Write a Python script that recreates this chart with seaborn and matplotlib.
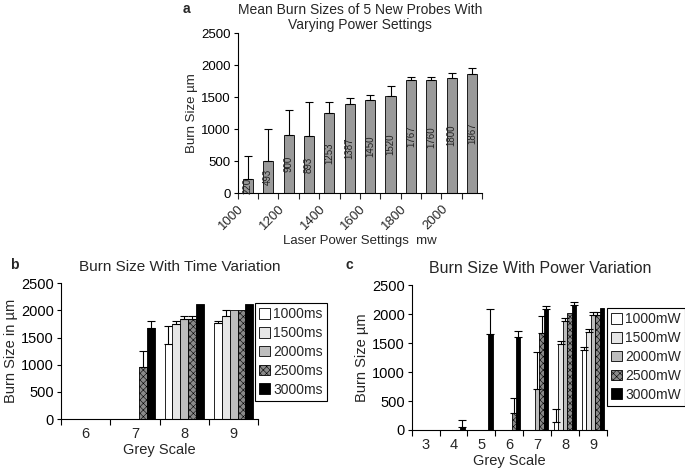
import numpy as np
import pandas as pd
import matplotlib
matplotlib.use("Agg")
import matplotlib.pyplot as plt
from matplotlib.patches import Patch
import seaborn as sns

# ---- data ----
a_power = ["1000", "1100", "1200", "1300", "1400", "1500", "1600", "1700", "1800", "1900", "2000", "2100"]
a_size = [220, 493, 900, 893, 1253, 1387, 1450, 1520, 1767, 1760, 1800, 1867]
a_err = [360, 507, 400, 527, 167, 93, 80, 150, 43, 50, 70, 83]
a_ticklabels = ["1000", "", "1200", "", "1400", "", "1600", "", "1800", "", "2000", "", ""]

b_grey = ["6", "7", "8", "9"]
b_series = ["1000ms", "1500ms", "2000ms", "2500ms", "3000ms"]
b_vals = {
    "1000ms": [0, 0, 1390, 1760],
    "1500ms": [0, 0, 1750, 1900],
    "2000ms": [0, 0, 1840, 2000],
    "2500ms": [0, 950, 1840, 2000],
    "3000ms": [0, 1680, 2110, 2110],
}
b_errs = {
    "1000ms": [0, 0, 320, 50],
    "1500ms": [0, 0, 50, 100],
    "2000ms": [0, 0, 60, 0],
    "2500ms": [0, 300, 60, 0],
    "3000ms": [0, 120, 0, 0],
}

c_grey = ["3", "4", "5", "6", "7", "8", "9"]
c_series = ["1000mW", "1500mW", "2000mW", "2500mW", "3000mW"]
c_vals = {
    "1000mW": [0, 0, 0, 0, 0, 130, 1380],
    "1500mW": [0, 0, 0, 0, 0, 1480, 1690],
    "2000mW": [0, 0, 0, 0, 700, 1880, 1980],
    "2500mW": [0, 0, 0, 300, 1680, 2010, 1980],
    "3000mW": [0, 60, 1650, 1610, 2090, 2150, 2110],
}
c_errs = {
    "1000mW": [0, 0, 0, 0, 0, 230, 60],
    "1500mW": [0, 0, 0, 0, 0, 50, 50],
    "2000mW": [0, 0, 0, 0, 650, 50, 50],
    "2500mW": [0, 0, 0, 250, 290, 0, 50],
    "3000mW": [0, 110, 440, 95, 50, 50, 0],
}

fills = ["white", "#e6e6e6", "#bdbdbd", "#8a8a8a", "black"]
hatches = ["", "", "", "xxxxx", ""]

sns.set_style("ticks")
plt.rcParams["font.family"] = ["Liberation Sans", "DejaVu Sans"]
plt.rcParams["hatch.linewidth"] = 0.4
plt.rcParams["axes.linewidth"] = 0.8

fig = plt.figure(figsize=(6.85, 4.72), dpi=100)


def style_axis(ax, ylabel, fs):
    ax.set_ylim(0, 2500)
    ax.set_yticks(range(0, 2501, 500))
    ax.set_ylabel(ylabel, fontsize=fs, labelpad=2)
    ax.tick_params(axis="y", labelsize=fs, length=3, width=0.8, pad=2, colors="black")
    for s in ["top", "right"]:
        ax.spines[s].set_visible(False)
    ax.spines["left"].set_color("black")
    ax.spines["bottom"].set_color("black")


# =============== a ===============
ax_a = fig.add_axes([0.347, 0.591, 0.357, 0.339])
df_a = pd.DataFrame({"power": a_power, "size": a_size})
sns.barplot(data=df_a, x="power", y="size", color="#9a9a9a", width=0.5,
            edgecolor="black", linewidth=0.6, errorbar=None, ax=ax_a)
ax_a.errorbar(np.arange(len(a_size)), a_size, yerr=[np.zeros(len(a_err)), a_err],
              fmt="none", ecolor="black", elinewidth=0.8, capsize=3, capthick=0.8)
ax_a.bar_label(ax_a.containers[0], labels=[str(v) for v in a_size], label_type="center",
               rotation=90, fontsize=7, color="#222222")
style_axis(ax_a, "Burn Size \u00b5m", 9.5)
ax_a.set_xlim(-0.5, len(a_size) - 0.5)
ax_a.set_xticks(np.arange(len(a_size) + 1) - 0.5)
ax_a.set_xticklabels(a_ticklabels, rotation=45, ha="right", rotation_mode="anchor", fontsize=9.5)
ax_a.tick_params(axis="x", length=4, width=0.8, pad=3)
ax_a.set_xlabel("Laser Power Settings  mw", fontsize=9.5, labelpad=2)
ax_a.set_title("Mean Burn Sizes of 5 New Probes With\nVarying Power Settings", fontsize=10,
               pad=3, linespacing=1.05)
fig.text(183 / 685, 1 - 9 / 472, "a", fontsize=10, fontweight="bold", va="center")


# =============== grouped panels ===============
def grouped(ax, cats, series, vals, errs):
    rows = []
    for s in series:
        for c, v in zip(cats, vals[s]):
            rows.append({"grey": c, "setting": s, "size": v})
    df = pd.DataFrame(rows)
    sns.barplot(data=df, x="grey", y="size", hue="setting", hue_order=series, order=cats,
                palette=fills, width=0.8, edgecolor="black", linewidth=0.6,
                errorbar=None, legend=False, ax=ax)
    for i, (cont, s) in enumerate(zip(ax.containers, series)):
        xs = []
        for p in cont.patches:
            p.set_facecolor(fills[i])
            p.set_hatch(hatches[i])
            p.set_edgecolor("black")
            xs.append(p.get_x() + p.get_width() / 2)
        e = np.array(errs[s])
        v = np.array(vals[s])
        m = e > 0
        ax.errorbar(np.array(xs)[m], v[m], yerr=[np.zeros(m.sum()), e[m]], fmt="none",
                    ecolor="black", elinewidth=0.8, capsize=3, capthick=0.8)
    ax.set_xlim(-0.5, len(cats) - 0.5)
    ax.set_xticks(np.arange(len(cats)))
    ax.set_xticklabels(cats, fontsize=10.5)
    ax.tick_params(axis="x", which="major", length=0, pad=6)
    ax.set_xticks(np.arange(len(cats) + 1) - 0.5, minor=True)
    ax.tick_params(axis="x", which="minor", length=4, width=0.8, color="black")
    ax.set_xlabel("Grey Scale", fontsize=10.5, labelpad=1)
    handles = [Patch(facecolor=fills[i], hatch=hatches[i], edgecolor="black", linewidth=0.6,
                     label=s) for i, s in enumerate(series)]
    return handles


# =============== b ===============
ax_b = fig.add_axes([0.089, 0.112, 0.288, 0.288])
h_b = grouped(ax_b, b_grey, b_series, b_vals, b_errs)
style_axis(ax_b, "Burn Size in \u00b5m", 10.5)
ax_b.set_title("Burn Size With Time Variation", fontsize=11, x=0.60, pad=9)
leg = ax_b.legend(handles=h_b, loc="upper left", bbox_to_anchor=(255 / 685, 1 - 303 / 472),
                  bbox_transform=fig.transFigure, fontsize=10, frameon=True, fancybox=False,
                  framealpha=1, edgecolor="black", borderpad=0.3, labelspacing=0.35,
                  handlelength=0.8, handleheight=0.8, handletextpad=0.2, borderaxespad=0)
leg.get_frame().set_linewidth(0.8)
fig.text(10 / 685, 1 - 265 / 472, "b", fontsize=10, fontweight="bold", va="center")

# =============== c ===============
ax_c = fig.add_axes([0.601, 0.089, 0.285, 0.307])
h_c = grouped(ax_c, c_grey, c_series, c_vals, c_errs)
style_axis(ax_c, "Burn Size \u00b5m", 10.5)
ax_c.set_title("Burn Size With Power Variation", fontsize=11.5, x=0.656, pad=9)
leg = ax_c.legend(handles=h_c, loc="upper left", bbox_to_anchor=(607 / 685, 1 - 308 / 472),
                  bbox_transform=fig.transFigure, fontsize=10, frameon=True, fancybox=False,
                  framealpha=1, edgecolor="black", borderpad=0.3, labelspacing=0.35,
                  handlelength=0.8, handleheight=0.8, handletextpad=0.2, borderaxespad=0)
leg.get_frame().set_linewidth(0.8)
fig.text(345 / 685, 1 - 265 / 472, "c", fontsize=10, fontweight="bold", va="center")

fig.savefig("out.png", dpi=100)
plt.close(fig)
